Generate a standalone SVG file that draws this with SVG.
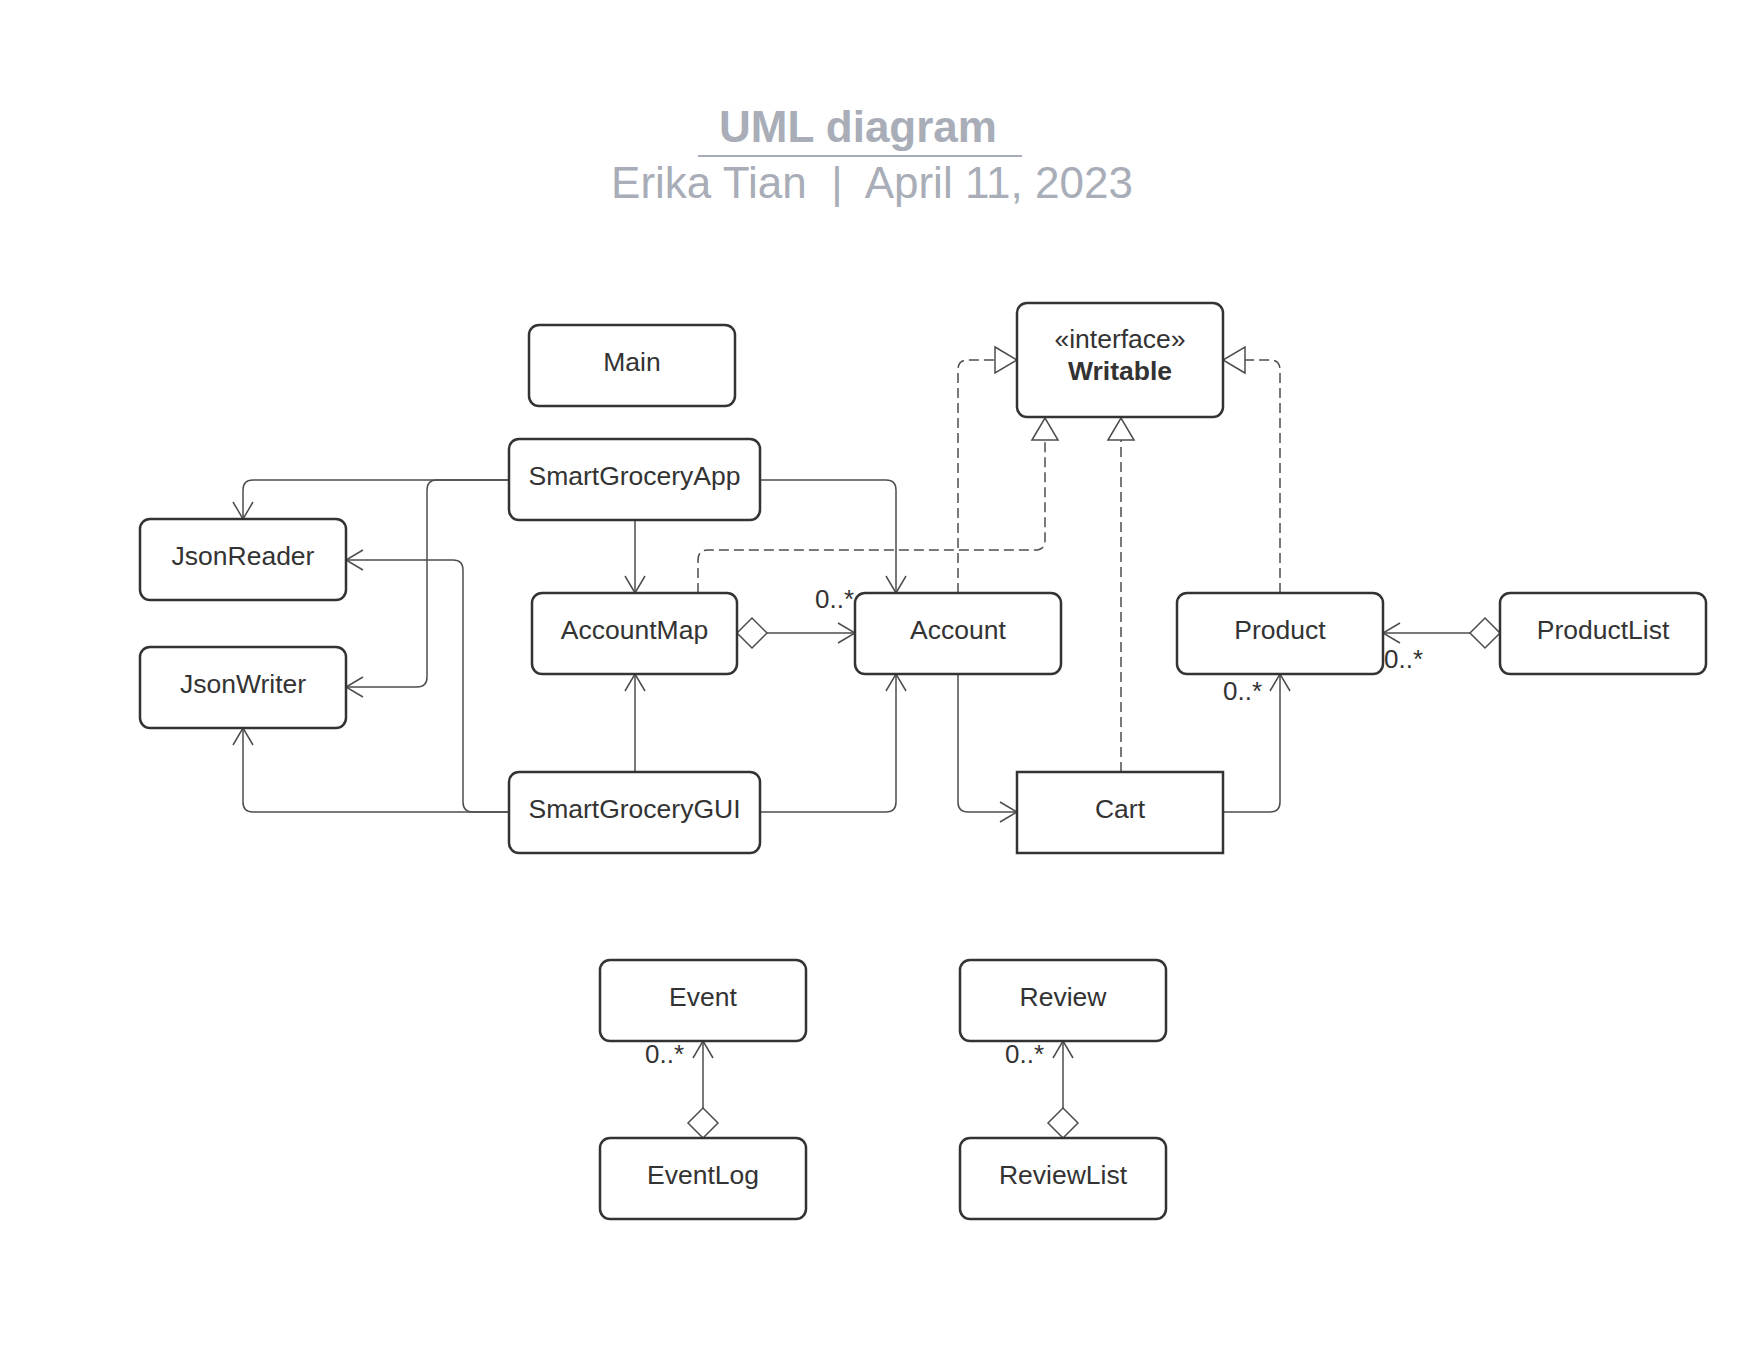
<svg xmlns="http://www.w3.org/2000/svg" width="1760" height="1360" viewBox="0 0 1760 1360">
<style>
.box{fill:#ffffff;stroke:#333333;stroke-width:2.5}
.lbl{font-family:"Liberation Sans",Arial,sans-serif;font-size:26.5px;fill:#333333;text-anchor:middle}
.mult{font-family:"Liberation Sans",Arial,sans-serif;font-size:26px;fill:#333333}
.ttl{font-family:"Liberation Sans",Arial,sans-serif;font-size:44px;fill:#a8adb7;text-anchor:middle}
.ln{fill:none;stroke:#4d4d4d;stroke-width:1.5}
.dash{stroke-dasharray:10,5}
.head{fill:none;stroke:#4d4d4d;stroke-width:1.5;stroke-dasharray:none}
.tri{fill:#ffffff;stroke:#4d4d4d;stroke-width:1.5;stroke-dasharray:none}
</style>
<defs>
<marker id="open" markerUnits="userSpaceOnUse" viewBox="-20 -12 22 24" refX="0" refY="0" markerWidth="22" markerHeight="24" orient="auto" overflow="visible">
<path class="head" d="M-17,-10 L0,0 L-17,10"/>
</marker>
<marker id="real" markerUnits="userSpaceOnUse" viewBox="-24 -15 26 30" refX="0" refY="0" markerWidth="26" markerHeight="30" orient="auto" overflow="visible">
<path class="tri" d="M-22,-13 L0,0 L-22,13 Z"/>
</marker>
<marker id="agg" markerUnits="userSpaceOnUse" viewBox="-2 -17 34 34" refX="0" refY="0" markerWidth="34" markerHeight="34" orient="auto" overflow="visible">
<path class="tri" d="M0,0 L15,-15 L30,0 L15,15 Z"/>
</marker>
</defs>
<rect width="1760" height="1360" fill="#ffffff"/>
<g id="title">
<text class="ttl" x="858" y="142" font-weight="bold">UML diagram</text>
<line x1="698" y1="156" x2="1022" y2="156" stroke="#a8adb7" stroke-width="2"/>
<text class="ttl" x="872" y="198" font-size="45.4" xml:space="preserve">Erika Tian  |  April 11, 2023</text>
</g>
<g id="connectors">
<path class="ln" d="M509,480 L253,480 Q243,480 243,490 L243,519" marker-end="url(#open)"/>
<path class="ln" d="M509,480 L437,480 Q427,480 427,490 L427,677 Q427,687 417,687 L346,687" marker-end="url(#open)"/>
<path class="ln" d="M509,812 L473,812 Q463,812 463,802 L463,570 Q463,560 453,560 L346,560" marker-end="url(#open)"/>
<path class="ln" d="M509,812 L253,812 Q243,812 243,802 L243,728" marker-end="url(#open)"/>
<path class="ln" d="M635,520 L635,593" marker-end="url(#open)"/>
<path class="ln" d="M760,480 L886,480 Q896,480 896,490 L896,593" marker-end="url(#open)"/>
<path class="ln" d="M737,633 L855,633" marker-start="url(#agg)" marker-end="url(#open)"/>
<path class="ln" d="M635,772 L635,674" marker-end="url(#open)"/>
<path class="ln" d="M760,812 L886,812 Q896,812 896,802 L896,674" marker-end="url(#open)"/>
<path class="ln dash" d="M698,593 L698,560 Q698,550 708,550 L1035,550 Q1045,550 1045,540 L1045,418" marker-end="url(#real)"/>
<path class="ln dash" d="M958,593 L958,370 Q958,360 968,360 L1017,360" marker-end="url(#real)"/>
<path class="ln dash" d="M1121,772 L1121,418" marker-end="url(#real)"/>
<path class="ln dash" d="M1280,593 L1280,370 Q1280,360 1270,360 L1223,360" marker-end="url(#real)"/>
<path class="ln" d="M1500,633 L1383,633" marker-start="url(#agg)" marker-end="url(#open)"/>
<path class="ln" d="M958,674 L958,802 Q958,812 968,812 L1017,812" marker-end="url(#open)"/>
<path class="ln" d="M1223,812 L1270,812 Q1280,812 1280,802 L1280,674" marker-end="url(#open)"/>
<path class="ln" d="M703,1138 L703,1041" marker-start="url(#agg)" marker-end="url(#open)"/>
<path class="ln" d="M1063,1138 L1063,1041" marker-start="url(#agg)" marker-end="url(#open)"/>
<text class="mult" x="815" y="608">0..*</text>
<text class="mult" x="1384" y="668">0..*</text>
<text class="mult" x="1223" y="700">0..*</text>
<text class="mult" x="645" y="1063">0..*</text>
<text class="mult" x="1005" y="1063">0..*</text>
</g>
<g id="Writable"><rect class="box" x="1017" y="303" width="206" height="114" rx="10"/><text class="lbl" x="1120" y="348">«interface»</text><text class="lbl" x="1120" y="380" font-weight="bold">Writable</text></g>
<g id="Main"><rect class="box" x="529" y="325" width="206" height="81" rx="10"/><text class="lbl" x="632" y="371">Main</text></g>
<g id="SmartGroceryApp"><rect class="box" x="509" y="439" width="251" height="81" rx="10"/><text class="lbl" x="634.5" y="485">SmartGroceryApp</text></g>
<g id="JsonReader"><rect class="box" x="140" y="519" width="206" height="81" rx="10"/><text class="lbl" x="243" y="565">JsonReader</text></g>
<g id="JsonWriter"><rect class="box" x="140" y="647" width="206" height="81" rx="10"/><text class="lbl" x="243" y="693">JsonWriter</text></g>
<g id="AccountMap"><rect class="box" x="532" y="593" width="205" height="81" rx="10"/><text class="lbl" x="634.5" y="639">AccountMap</text></g>
<g id="Account"><rect class="box" x="855" y="593" width="206" height="81" rx="10"/><text class="lbl" x="958" y="639">Account</text></g>
<g id="Product"><rect class="box" x="1177" y="593" width="206" height="81" rx="10"/><text class="lbl" x="1280" y="639">Product</text></g>
<g id="ProductList"><rect class="box" x="1500" y="593" width="206" height="81" rx="10"/><text class="lbl" x="1603" y="639">ProductList</text></g>
<g id="SmartGroceryGUI"><rect class="box" x="509" y="772" width="251" height="81" rx="10"/><text class="lbl" x="634.5" y="818">SmartGroceryGUI</text></g>
<g id="Cart"><rect class="box" x="1017" y="772" width="206" height="81"/><text class="lbl" x="1120" y="818">Cart</text></g>
<g id="Event"><rect class="box" x="600" y="960" width="206" height="81" rx="10"/><text class="lbl" x="703" y="1006">Event</text></g>
<g id="EventLog"><rect class="box" x="600" y="1138" width="206" height="81" rx="10"/><text class="lbl" x="703" y="1184">EventLog</text></g>
<g id="Review"><rect class="box" x="960" y="960" width="206" height="81" rx="10"/><text class="lbl" x="1063" y="1006">Review</text></g>
<g id="ReviewList"><rect class="box" x="960" y="1138" width="206" height="81" rx="10"/><text class="lbl" x="1063" y="1184">ReviewList</text></g>
</svg>
